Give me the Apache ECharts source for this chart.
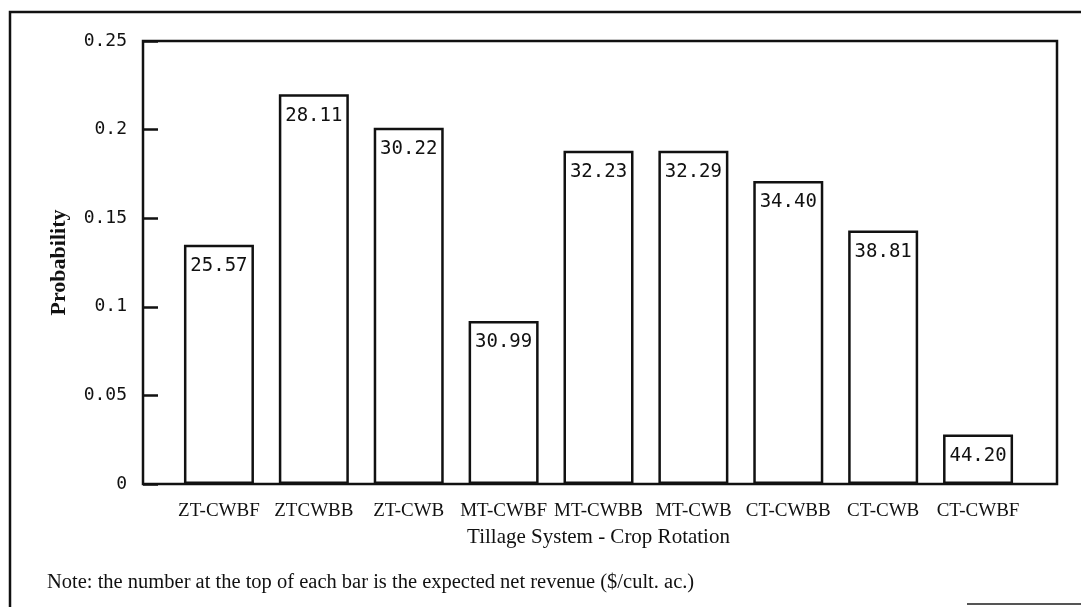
<!DOCTYPE html>
<html>
<head>
<meta charset="utf-8">
<script src="https://cdn.jsdelivr.net/npm/echarts@6/dist/echarts.min.js"></script>
<style>
  html, body { margin: 0; padding: 0; background: #fff; }
  #chart { width: 1081px; height: 607px; }
</style>
</head>
<body>
<div id="chart"></div>
<script>
// data
const categories = ['ZT-CWBF', 'ZTCWBB', 'ZT-CWB', 'MT-CWBF', 'MT-CWBB', 'MT-CWB', 'CT-CWBB', 'CT-CWB', 'CT-CWBF']
const probability = [0.135, 0.22, 0.201, 0.092, 0.188, 0.188, 0.171, 0.143, 0.028]
const netRevenue = ['25.57', '28.11', '30.22', '30.99', '32.23', '32.29', '34.40', '38.81', '44.20']
const yMin = 0
const yMax = 0.25
const yStep = 0.05

const serif = '"Liberation Serif", "Times New Roman", serif'
const mono = '"DejaVu Sans Mono", "Liberation Mono", monospace'
const ink = '#111'

const chart = echarts.init(document.getElementById('chart'))

const option = {
  backgroundColor: '#fff',
  animation: false,
  title: {
    text: 'Note: the number at the top of each bar is the expected net revenue ($/cult. ac.)',
    left: 42,
    top: 567,
    textStyle: { fontFamily: serif, fontSize: 20.5, fontWeight: 'normal', color: ink }
  },
  grid: [
    // bars
    { left: 171.5, right: 55.5, top: 41, bottom: 123 },
    // plot frame
    { left: 143, right: 24, top: 41, bottom: 123, show: true, borderColor: ink, borderWidth: 2.5, backgroundColor: 'transparent' }
  ],
  xAxis: [
    {
      type: 'category',
      gridIndex: 0,
      data: categories,
      axisLine: { show: false },
      axisTick: { show: false },
      axisLabel: { interval: 0, fontFamily: serif, fontSize: 19, color: ink, margin: 18 },
      name: 'Tillage System - Crop Rotation',
      nameLocation: 'middle',
      nameGap: 43,
      nameTextStyle: { fontFamily: serif, fontSize: 21, color: ink }
    },
    { type: 'value', gridIndex: 1, show: false }
  ],
  yAxis: [
    {
      type: 'value',
      gridIndex: 0,
      min: yMin,
      max: yMax,
      interval: yStep,
      offset: 28.5,
      splitLine: { show: false },
      axisLine: { show: false },
      axisTick: { show: true, inside: true, length: 15, lineStyle: { color: ink, width: 2.5 } },
      axisLabel: { fontFamily: mono, fontSize: 18, color: ink, margin: 16 },
      name: 'Probability',
      nameLocation: 'middle',
      nameGap: 73,
      nameTextStyle: { fontFamily: serif, fontSize: 22, fontWeight: 'bold', color: ink }
    },
    { type: 'value', gridIndex: 1, show: false }
  ],
  series: [{
    type: 'bar',
    xAxisIndex: 0,
    yAxisIndex: 0,
    data: probability,
    barWidth: 70,
    itemStyle: { color: '#fff', borderColor: ink, borderWidth: 2.5 },
    label: {
      show: true,
      position: 'insideTop',
      distance: 12,
      fontFamily: mono,
      fontSize: 19,
      color: ink,
      formatter: p => netRevenue[p.dataIndex]
    }
  }],
  graphic: [
    { type: 'polyline', shape: { points: [[10, 607], [10, 12], [1081, 12]] }, style: { fill: null, stroke: ink, lineWidth: 2.5 } },
    { type: 'line', shape: { x1: 967, y1: 604, x2: 1081, y2: 604 }, style: { stroke: '#555', lineWidth: 2 } }
  ]
}

chart.setOption(option)
</script>
</body>
</html>
